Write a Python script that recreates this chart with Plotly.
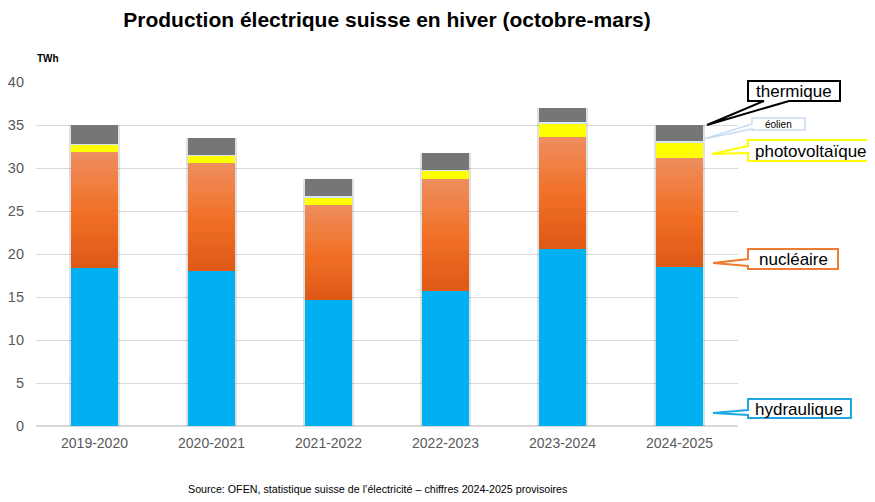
import plotly.graph_objects as go

# ---- data (TWh) ----
seasons = ["2019-2020", "2020-2021", "2021-2022", "2022-2023", "2023-2024", "2024-2025"]
hydraulique = [18.4, 18.0, 14.7, 15.7, 20.6, 18.5]
nucleaire = [13.5, 12.6, 11.0, 13.0, 13.0, 12.7]
photovoltaique = [0.8, 0.8, 0.9, 1.0, 1.6, 1.8]
eolien = [0.1, 0.1, 0.1, 0.1, 0.1, 0.1]
thermique = [2.2, 2.0, 2.0, 1.9, 1.7, 1.9]
y_ticks = [0, 5, 10, 15, 20, 25, 30, 35, 40]

# ---- layout geometry (page pixels; page body has an 8px margin) ----
O = 8
W, H = 875 - O, 502 - O
L, R, T, B = 36, 738, 82, 426
BW = 0.41
FONT = "Liberation Sans, Arial"

def px(x):
    return (x - L) / (R - L)

def py(y):
    return (B - y) / (B - T)

fig = go.Figure()

totals = [h + n + p + e + t for h, n, p, e, t in zip(hydraulique, nucleaire, photovoltaique, eolien, thermique)]

# soft shadow / outline behind each bar
fig.add_trace(go.Bar(x=seasons, y=totals, base=[0] * 6, width=BW + 0.025,
                     marker=dict(color="rgba(0,0,0,0.12)", line=dict(width=0)),
                     hoverinfo="skip", showlegend=False))

fig.add_trace(go.Bar(x=seasons, y=hydraulique, base=[0] * 6, width=BW, name="hydraulique",
                     marker=dict(color="#00B0F0", line=dict(width=0))))

# nucléaire with vertical gradient (drawn as thin slices)
N = 30
top_c = (238, 142, 96)
mid_c = (241, 113, 38)
bot_c = (222, 88, 22)

def mix(a, b, t):
    return tuple(round(a[i] + (b[i] - a[i]) * t) for i in range(3))

for i in range(N):
    f = (i + 0.5) / N
    c = mix(bot_c, mid_c, f / 0.5) if f < 0.5 else mix(mid_c, top_c, (f - 0.5) / 0.5)
    fig.add_trace(go.Bar(
        x=seasons,
        y=[n / N * 1.002 for n in nucleaire],
        base=[h + n * i / N for h, n in zip(hydraulique, nucleaire)],
        width=BW, marker=dict(color="rgb(%d,%d,%d)" % c, line=dict(width=0)),
        hoverinfo="skip", showlegend=False))

base_pv = [h + n for h, n in zip(hydraulique, nucleaire)]
fig.add_trace(go.Bar(x=seasons, y=photovoltaique, base=base_pv, width=BW, name="photovoltaïque",
                     marker=dict(color="#FFFF00", line=dict(width=0))))
base_e = [b + p for b, p in zip(base_pv, photovoltaique)]
fig.add_trace(go.Bar(x=seasons, y=eolien, base=base_e, width=BW, name="éolien",
                     marker=dict(color="#D6E6F4", line=dict(width=0))))
base_t = [b + e for b, e in zip(base_e, eolien)]
fig.add_trace(go.Bar(x=seasons, y=thermique, base=base_t, width=BW, name="thermique",
                     marker=dict(color="#767676", line=dict(width=0))))

# ---- callouts ----
shapes = []
annotations = []

def add_callout(pts, box, color, lw, text, size):
    path = "M " + " L ".join("%.5f,%.5f" % (px(a), py(b)) for a, b in pts) + " Z"
    shapes.append(dict(type="path", xref="paper", yref="paper", path=path,
                       fillcolor="white", line=dict(color=color, width=lw), layer="above"))
    x0, y0, x1, y1 = box
    annotations.append(dict(x=px((x0 + x1) / 2), y=py((y0 + y1) / 2 + 0.5), xref="paper", yref="paper",
                            text=text, showarrow=False, font=dict(size=size, color="black", family=FONT),
                            xanchor="center", yanchor="middle"))

def callout_left(x0, y0, x1, y1, ya, yb, tipx, tipy, color, lw, text, size):
    pts = [(x0, y0), (x1, y0), (x1, y1), (x0, y1), (x0, yb), (tipx, tipy), (x0, ya)]
    add_callout(pts, (x0, y0, x1, y1), color, lw, text, size)

def callout_bottom(x0, y0, x1, y1, xa, xb, tipx, tipy, color, lw, text, size):
    pts = [(x0, y0), (x1, y0), (x1, y1), (xb, y1), (tipx, tipy), (xa, y1), (x0, y1)]
    add_callout(pts, (x0, y0, x1, y1), color, lw, text, size)

callout_bottom(748, 81, 840, 101, 764, 789, 707, 125, "black", 2, "thermique", 17)
callout_left(752, 118, 805, 130, 124, 129, 704, 139, "#C5DCF2", 1.5, "éolien", 10)
callout_left(748, 140, 874, 161, 146, 153, 712, 154, "#FFFF00", 2, "photovoltaïque", 17)
callout_left(748, 249, 838, 269, 259, 266, 713, 263, "#ED7D31", 2, "nucléaire", 17)
callout_left(748, 399, 851, 418, 410, 415, 713, 413, "#1EA8E0", 2, "hydraulique", 17)

annotations.append(dict(x=px(35), y=py(58), xref="paper", yref="paper", text="<b>TWh</b>",
                        showarrow=False, xanchor="left", yanchor="middle",
                        font=dict(size=10, color="black", family=FONT)))
annotations.append(dict(x=px(377), y=py(489), xref="paper", yref="paper",
                        text="Source: OFEN, statistique suisse de l’électricité – chiffres 2024-2025 provisoires",
                        showarrow=False, xanchor="center", yanchor="middle",
                        font=dict(size=10.7, color="black", family=FONT)))

fig.update_layout(
    width=W, height=H,
    margin=dict(l=L - O, r=W - (R - O), t=T - O, b=H - (B - O), pad=0, autoexpand=False),
    barmode="overlay",
    plot_bgcolor="white", paper_bgcolor="white",
    showlegend=False,
    title=dict(text="<b>Production électrique suisse en hiver (octobre-mars)</b>",
               x=(387 - O) / W, xref="container", xanchor="center",
               y=1 - (20 - O) / H, yref="container", yanchor="middle",
               font=dict(size=21, color="black", family=FONT)),
    font=dict(family=FONT),
    shapes=shapes,
    annotations=annotations,
    bargap=0,
)
fig.update_yaxes(range=[0, 40], tickvals=y_ticks, showgrid=True, gridcolor="#D9D9D9", gridwidth=1,
                 zeroline=True, zerolinecolor="#D9D9D9", showline=False, ticks="", automargin=False,
                 tickfont=dict(size=14.5, color="#595959"), ticklabelstandoff=11)
fig.update_xaxes(showgrid=False, showline=False, ticks="", ticklabelstandoff=7, automargin=False,
                 tickfont=dict(size=14, color="#595959"))

fig.write_html("out.html")
